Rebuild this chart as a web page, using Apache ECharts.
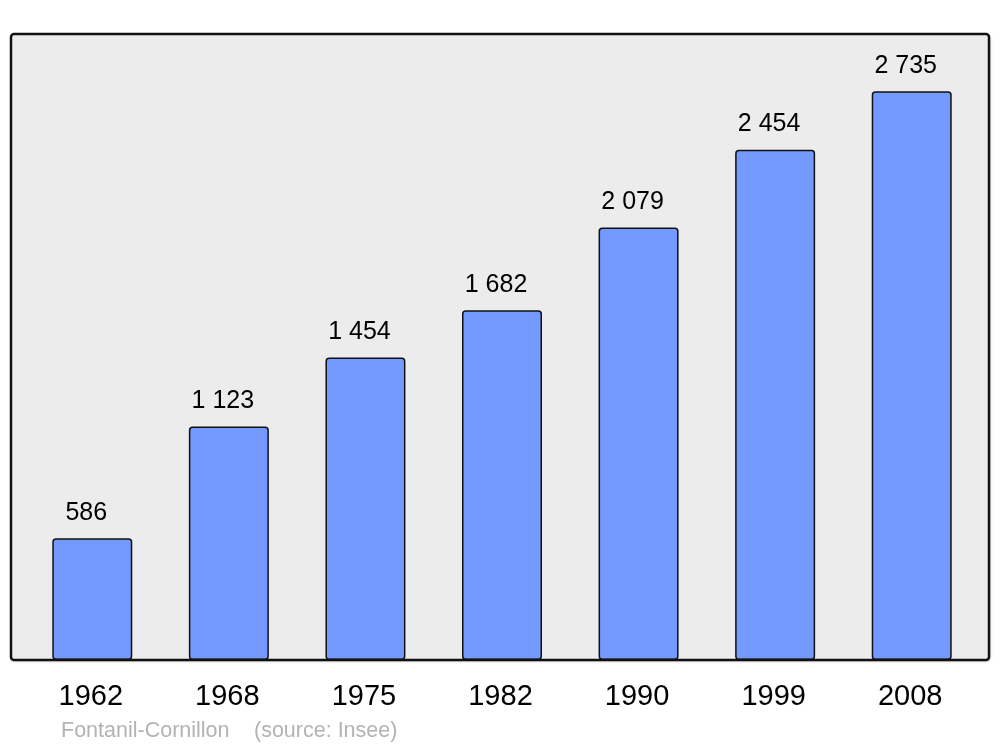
<!DOCTYPE html>
<html>
<head>
<meta charset="utf-8">
<script src="https://cdn.jsdelivr.net/npm/echarts@6/dist/echarts.min.js"></script>
<style>html,body{margin:0;padding:0;background:#fff;}#c{width:1000px;height:747px;}</style>
</head>
<body>
<div id="c"></div>
<script>
const years = ['1962', '1968', '1975', '1982', '1990', '1999', '2008'];
const population = [586, 1123, 1454, 1682, 2079, 2454, 2735];
const sourceTexts = ['Fontanil-Cornillon', '(source: Insee)'];

const fmt = v => String(v).replace(/\B(?=(\d{3})+(?!\d))/g, ' ');
const chart = echarts.init(document.getElementById('c'), null, {renderer: 'canvas'});
chart.setOption({
  animation: false,
  backgroundColor: '#ffffff',
  textStyle: {fontFamily: 'Liberation Sans, Arial, sans-serif'},
  grid: {left: 24, right: 20, top: 34, bottom: 87},
  xAxis: {
    type: 'category', data: years,
    axisLine: {show: false}, axisTick: {show: false},
    axisLabel: {fontSize: 29, color: '#000', margin: 22, padding: [0, 3, 0, 0], fontFamily: 'Liberation Sans, Arial, sans-serif'}
  },
  yAxis: {type: 'value', min: 0, max: 3010, show: false, splitLine: {show: false}},
  graphic: [
    {type: 'rect', z: -10, shape: {x: 11, y: 34, width: 978, height: 626, r: 3},
     style: {fill: '#ececec', stroke: 'none', shadowBlur: 3, shadowColor: 'rgba(0,0,0,0.35)', shadowOffsetX: 1, shadowOffsetY: 1}},
    {type: 'rect', z: 100, shape: {x: 11, y: 34, width: 978, height: 626, r: 3},
     style: {fill: null, stroke: '#111', lineWidth: 2.5}},
    {type: 'text', z: 100, left: 61, top: 720,
     style: {text: sourceTexts[0], fill: '#b3b3b3', fontSize: 21.5, fontFamily: 'Liberation Sans, Arial, sans-serif'}},
    {type: 'text', z: 100, left: 254, top: 720,
     style: {text: sourceTexts[1], fill: '#b3b3b3', fontSize: 21.5, fontFamily: 'Liberation Sans, Arial, sans-serif'}}
  ],
  series: [{
    type: 'bar', data: population, barWidth: 80,
    itemStyle: {color: '#7499ff', borderColor: '#111', borderWidth: 1.5, borderRadius: 3},
    label: {show: true, position: 'top', distance: 13, offset: [-6, 0], fontSize: 25, color: '#000',
      fontFamily: 'Liberation Sans, Arial, sans-serif', formatter: p => fmt(p.value)}
  }]
});
</script>
</body>
</html>
